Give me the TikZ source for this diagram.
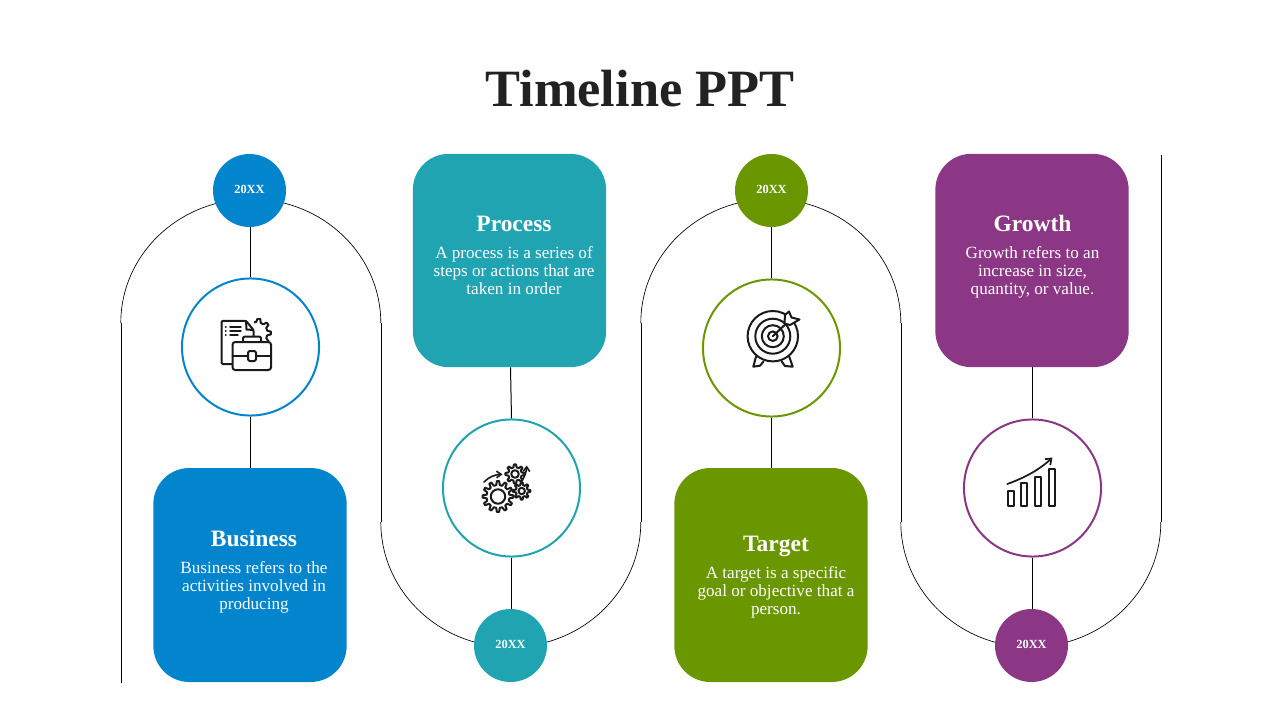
\documentclass[tikz,border=0pt]{standalone}
\usepackage{fontspec}
\setmainfont{Liberation Serif}
\usetikzlibrary{arrows.meta}
\definecolor{cblue}{HTML}{0385CE}
\definecolor{cteal}{HTML}{20A4B2}
\definecolor{cgreen}{HTML}{6A9700}
\definecolor{cpurple}{HTML}{8C3785}
\definecolor{ctitle}{HTML}{222222}
\definecolor{cicon}{HTML}{1A1A1A}
\newcommand{\mycog}[5]{% x,y,root,outer,teeth
  \begin{scope}[shift={(#1,#2)}]
    \pgfmathsetmacro{\pp}{360/#5}
    \pgfmathsetmacro{\sa}{-0.3*\pp}
    \draw[iconline,fill=white] (\sa:#3)
      \foreach \k in {1,...,#5} {
        \pgfextra{\pgfmathsetmacro{\ca}{(\k-1)*\pp}
        \pgfmathsetmacro{\aa}{\ca-0.3*\pp}\pgfmathsetmacro{\ab}{\ca-0.14*\pp}
        \pgfmathsetmacro{\ac}{\ca+0.14*\pp}\pgfmathsetmacro{\ad}{\ca+0.3*\pp}}
        -- (\aa:#3) -- (\ab:#4) -- (\ac:#4) -- (\ad:#3)
      } -- cycle;
  \end{scope}}
\tikzset{
  x=0.75pt,y=-0.75pt,
  snakearc/.style={draw=black,line width=0.5pt},
  snakeline/.style={draw=black,line width=0.75pt},
  link/.style={draw=black,line width=0.75pt},
  yearnode/.style={circle,minimum size=54.75pt,inner sep=0pt,text=white,text height=6.1pt,text depth=1.2pt,font=\bfseries\fontsize{9.3pt}{12pt}\selectfont},
  ringnode/.style={circle,draw=#1,fill=white,line width=1.5pt,minimum size=102.8pt,inner sep=0pt},
  cardnode/.style={rounded corners=27pt,minimum width=145pt,minimum height=160pt,inner sep=0pt},
  headnode/.style={text=white,font=\bfseries\fontsize{17.6pt}{19pt}\selectfont,inner sep=0pt,anchor=base},
  bodynode/.style={text=white,align=center,font=\fontsize{12.85pt}{13.5pt}\selectfont,inner sep=0pt},
  iconline/.style={draw=cicon,line width=1.5pt,line join=round,line cap=round},
}
\begin{document}
\begin{tikzpicture}
\useasboundingbox (0,0) rectangle (1280,720);
% serpentine line: straight runs
\draw[snakeline] (121.5,682.5) -- (121.5,323);
\draw[snakeline] (381.5,323) -- (381.5,522);
\draw[snakeline] (641.5,522) -- (641.5,323);
\draw[snakeline] (901.5,323) -- (901.5,522);
\draw[snakeline] (1161.5,522) -- (1161.5,155);
% serpentine line: arcs
\draw[snakearc] (120.8,323) arc[start angle=180,end angle=360,x radius=130,y radius=124];
\draw[snakearc] (380.8,522) arc[start angle=180,end angle=0,x radius=130,y radius=125];
\draw[snakearc] (640.8,323) arc[start angle=180,end angle=360,x radius=130,y radius=124];
\draw[snakearc] (900.8,522) arc[start angle=180,end angle=0,x radius=130,y radius=125];
% title
\node[text=ctitle,font=\bfseries\fontsize{39.3pt}{44pt}\selectfont,inner sep=0pt] (title) at (640,88.5) {Timeline PPT};
% cards
\node[cardnode,fill=cblue,minimum height=160.5pt] (card1) at (250,575) {};
\node[cardnode,fill=cteal] (card2) at (509.5,260.5) {};
\node[cardnode,fill=cgreen,minimum height=160.5pt] (card3) at (771,575) {};
\node[cardnode,fill=cpurple] (card4) at (1032,260.5) {};
% years
\node[yearnode,fill=cblue] (year1) at (249.5,190.5) {20XX};
\node[yearnode,fill=cteal] (year2) at (510.5,645.5) {20XX};
\node[yearnode,fill=cgreen] (year3) at (771.5,190.5) {20XX};
\node[yearnode,fill=cpurple] (year4) at (1031.5,645.5) {20XX};
% rings
\node[ringnode=cblue] (ring1) at (250.5,347) {};
\node[ringnode=cteal] (ring2) at (511.5,488) {};
\node[ringnode=cgreen] (ring3) at (771.5,348) {};
\node[ringnode=cpurple] (ring4) at (1032.5,488) {};
% connectors
\draw[link] (year1.south -| ring1.north) -- (ring1.north);
\draw[link] (ring1.south) -- (ring1.south |- card1.north);
\draw[link] ([xshift=0.75pt]card2.south) -- (ring2.north);
\draw[link] (ring2.south) -- ([xshift=0.75pt]year2.north);
\draw[link] (year3.south) -- (ring3.north);
\draw[link] (ring3.south) -- (ring3.south |- card3.north);
\draw[link] (ring4.north |- card4.south) -- (ring4.north);
\draw[link] (ring4.south) -- (ring4.south |- year4.north);
% texts
\node[headnode] (head1) at (254,546.5) {Business};
\node[bodynode] (body1) at (254,587.4) {\strut Business refers to the\\activities involved in\\producing\strut};
\node[headnode] (head2) at (514,231.5) {Process};
\node[bodynode] (body2) at (514,273) {\strut A process is a series of\\steps or actions that are\\taken in order\strut};
\node[headnode] (head3) at (776,551.5) {Target};
\node[bodynode] (body3) at (776,593) {\strut A target is a specific\\goal or objective that a\\person.\strut};
\node[headnode] (head4) at (1032.5,231.5) {Growth};
\node[bodynode] (body4) at (1032.5,273) {\strut Growth refers to an\\increase in size,\\quantity, or value.\strut};
% icon 1: document, gear, briefcase
\begin{scope}
  \clip (254,318) rectangle (274,345);
  \mycog{256.5}{333}{11}{14.5}{9}
\end{scope}
\draw[iconline,fill=white,rounded corners=1pt] (243,364) -- (221.5,364) -- (221.5,320.8) -- (246,320.8) -- (253.5,330) -- (253.5,338);
\draw[iconline] (246,321) -- (246.5,329.5) -- (253.5,330);
\draw[iconline,line width=1.1pt] (225.5,327) -- (226,327) (230,327) -- (241,327)
  (225.5,331) -- (226,331) (230,331) -- (241,331)
  (225.5,335) -- (226,335) (230,335) -- (238,335);
\draw[iconline,fill=white,rounded corners=1.5pt] (243,342) -- (243,336.5) -- (261,336.5) -- (261,342);
\draw[iconline,fill=white,rounded corners=2pt] (232.5,342) rectangle (271,370);
\draw[iconline] (232.5,355.5) -- (248,355.5) (256,355.5) -- (271,355.5);
\draw[iconline,fill=white,rounded corners=1.5pt] (248,351) rectangle (256,361);
% icon 2: gears
\mycog{498}{496.5}{11.5}{15.5}{12}
\draw[iconline] (498,496.5) circle[radius=7.2];
\mycog{515}{474}{6.8}{9.6}{8}
\draw[iconline] (515,474) circle[radius=3.8];
\mycog{521.7}{491}{6}{8.6}{8}
\draw[iconline] (521.7,491) circle[radius=3.2];
\draw[iconline,line width=1.2pt,-{Straight Barb[length=3.5pt,width=5pt]}] (484,482) .. controls (489,477) and (495,474.5) .. (502.5,474.3);
\draw[iconline,line width=1.2pt,-{Straight Barb[length=3.5pt,width=5pt]}] (522.3,480) .. controls (525,476) and (526.5,471) .. (526.7,465.5);
% icon 3: target
\draw[iconline,fill=white] (756,356.7) -- (753.3,366.7) -- (760,365.7) -- (763.5,361.5);
\draw[iconline,fill=white] (789.3,356.7) -- (792.7,366.7) -- (785,366) -- (781.7,361.5);
\draw[iconline,fill=white] (772.8,336.2) circle[radius=25.2];
\draw[iconline] (772.8,336.2) circle[radius=17.5];
\draw[iconline] (772.8,336.2) circle[radius=11];
\draw[iconline] (772.8,336.2) circle[radius=4.8];
\draw[iconline] (772.8,336.2) -- (790,320);
\draw[iconline,fill=white] (785,315) -- (789,311.5) -- (791.5,317.5) -- (799.5,319.5) -- (790,325) -- (784.5,323.5) -- cycle;
% icon 4: growth
\draw[iconline,line cap=butt] (1007.7,491) rectangle (1014,505.5);
\draw[iconline,line cap=butt] (1021.3,482.7) rectangle (1027.3,505.5);
\draw[iconline,line cap=butt] (1035,476.7) rectangle (1041.3,505.5);
\draw[iconline,line cap=butt] (1049,469.3) rectangle (1055.3,505.5);
\draw[iconline,line width=1.3pt,-{Straight Barb[length=4pt,width=6pt]}] (1007.3,484) .. controls (1024,478) and (1039,470) .. (1052.5,457.5);
\end{tikzpicture}
\end{document}
